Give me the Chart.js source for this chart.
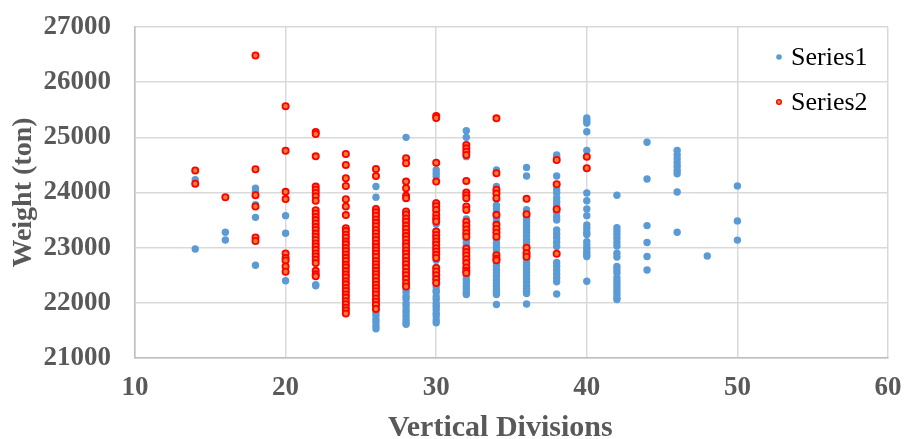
<!DOCTYPE html>
<html>
<head>
<meta charset="utf-8">
<script src="https://cdn.jsdelivr.net/npm/chart.js@4"></script>
<style>
    body { margin: 0; background: #fff; }
    #wrap { position: relative; width: 904px; height: 439px; }
</style>
</head>
<body>
<div id="wrap"><canvas id="chart"></canvas></div>
<script>
// x values (vertical divisions) for each column of points
const divisions = [14, 16, 18, 20, 22, 24, 26, 28, 30, 32, 34, 36, 38, 40, 42, 44, 46, 48, 50];

// Series1 weights, one list per division
const series1Weights = [
    [24230, 22975],
    [23280, 23140],
    [24080, 24020, 23780, 23550, 22680],
    [23580, 23260, 22400],
    [22330, 22310],
    [],
    [24110, 23915, 23710, 23590, 23460, 23310, 23180, 23070, 22930, 22810, 22660, 22550, 22400, 22290, 22140, 22030, 21950, 21880, 21820, 21770, 21700, 21650, 21580, 21530],
    [25000, 23610, 23480, 23330, 23220, 23070, 22960, 22810, 22700, 22550, 22440, 22310, 22240, 22190, 22120, 22070, 21990, 21940, 21870, 21820, 21760, 21700, 21650, 21610],
    [24410, 24350, 24290, 23810, 23740, 23650, 23520, 23430, 23300, 23210, 23080, 22990, 22860, 22770, 22640, 22550, 22420, 22360, 22290, 22230, 22190, 22110, 22060, 21990, 21940, 21880, 21810, 21760, 21690, 21640],
    [25120, 25000, 24650, 23520, 23390, 23250, 23150, 23090, 23020, 22960, 22890, 22800, 22730, 22650, 22560, 22490, 22420, 22360, 22300, 22250, 22190, 22150],
    [24410, 24110, 24020, 23880, 23770, 23700, 23630, 23530, 23460, 23350, 23280, 23150, 23080, 23020, 22960, 22900, 22840, 22780, 22720, 22670, 22600, 22540, 22480, 22410, 22360, 22300, 22240, 22190, 22150, 21970],
    [24455, 24300, 23690, 23630, 23570, 23510, 23450, 23390, 23330, 23280, 23210, 23150, 23090, 23030, 22970, 22910, 22860, 22790, 22730, 22680, 22610, 22550, 22500, 22430, 22380, 22310, 22260, 22210, 22170, 21980],
    [24680, 24640, 24300, 24050, 23990, 23900, 23830, 23760, 23700, 23640, 23560, 23500, 23320, 23250, 23180, 23100, 23020, 22730, 22660, 22590, 22520, 22450, 22380, 22160],
    [25350, 25300, 25260, 25100, 24760, 23990, 23850, 23700, 23580, 23410, 23350, 23280, 23240, 23110, 23050, 22990, 22930, 22880, 22840, 22390],
    [23950, 23360, 23300, 23240, 23170, 23100, 23030, 22900, 22830, 22660, 22600, 22540, 22455, 22390, 22330, 22270, 22210, 22150, 22090, 22060],
    [24910, 24245, 23400, 23095, 22840, 22595],
    [24760, 24680, 24610, 24540, 24470, 24400, 24340, 24010, 23280],
    [22850],
    [24120, 23485, 23137]
];

// Series2 weights, one list per division
const series2Weights = [
    [24400, 24160],
    [23915],
    [26483, 24421, 23951, 23745, 23185, 23120],
    [25565, 24758, 24012, 23880, 22895, 22812, 22769, 22660, 22564],
    [25096, 25060, 24655, 24107, 24050, 23990, 23930, 23850, 23680, 23620, 23555, 23500, 23440, 23375, 23320, 23255, 23200, 23140, 23075, 23020, 22960, 22895, 22840, 22780, 22720, 22580, 22520, 22480],
    [24698, 24500, 24258, 24119, 23879, 23745, 23590, 23354, 23300, 23235, 23180, 23112, 23060, 22995, 22940, 22876, 22815, 22760, 22690, 22640, 22575, 22515, 22460, 22390, 22335, 22270, 22215, 22150, 22095, 22030, 21975, 21910, 21860, 21805],
    [24427, 24300, 23697, 23640, 23580, 23510, 23450, 23390, 23320, 23260, 23200, 23140, 23070, 23010, 22950, 22890, 22830, 22760, 22700, 22640, 22580, 22520, 22460, 22390, 22330, 22270, 22210, 22150, 22080, 22020, 21960, 21890],
    [24620, 24530, 24198, 24078, 23939, 23898, 23655, 23600, 23530, 23470, 23400, 23340, 23270, 23210, 23150, 23080, 23020, 22950, 22890, 22830, 22760, 22700, 22630, 22560, 22500, 22430, 22360, 22297],
    [25385, 25350, 24541, 24198, 23806, 23750, 23685, 23595, 23530, 23474, 23293, 23230, 23170, 23112, 23053, 22990, 22930, 22870, 22812, 22631, 22570, 22500, 22430, 22359],
    [24860, 24800, 24740, 24680, 24210, 24000, 23950, 23898, 23745, 23685, 23470, 23400, 23330, 23260, 23200, 22985, 22920, 22860, 22790, 22720, 22640, 22580, 22540],
    [25344, 24350, 24050, 23980, 23898, 23595, 23414, 23340, 23270, 23200, 22864, 22800, 22770],
    [23885, 23607, 22998, 22900, 22836],
    [24590, 24150, 23697, 22890],
    [24650, 24440],
    [], [], [], [], []
];

const xTicks = [10, 20, 30, 40, 50, 60];
const yTicks = [21000, 22000, 23000, 24000, 25000, 26000, 27000];
const seriesNames = ['Series1', 'Series2'];

const labelColor = '#595959';
const gridColor = '#D9D9D9';
const serif = '"Liberation Serif", "Times New Roman", serif';

function toPoints(weights) {
    const pts = [];
    weights.forEach((col, i) => {
        col.forEach(w => pts.push({ x: divisions[i], y: w }));
    });
    return pts;
}

// legend sits inside the plot, top right, like the Excel original
const insideLegend = {
    id: 'insideLegend',
    afterDraw(chart) {
        const ctx = chart.ctx;
        const area = chart.chartArea;
        const mx = area.right - 109;
        const tx = area.right - 97;
        const rows = [area.top + 30, area.top + 75];
        ctx.save();
        ctx.font = '26px ' + serif;
        ctx.textBaseline = 'middle';
        rows.forEach((y, i) => {
            ctx.beginPath();
            if (i === 0) {
                ctx.arc(mx, y, 2.8, 0, Math.PI * 2);
                ctx.fillStyle = '#5B9BD5';
                ctx.fill();
            } else {
                ctx.arc(mx, y, 2.4, 0, Math.PI * 2);
                ctx.fillStyle = '#ED7D31';
                ctx.fill();
                ctx.lineWidth = 1.3;
                ctx.strokeStyle = '#FF0000';
                ctx.stroke();
            }
            ctx.fillStyle = '#000';
            ctx.fillText(seriesNames[i], tx, y + 1);
        });
        ctx.restore();
    }
};

// keep the plot box where the original has it (135..888 x 27..358)
function fixY(scale) {
    scale.width = 135;
    scale.paddingTop = 0;
    scale.paddingBottom = 0;
}

function fixX(scale) {
    scale.height = 81;
    scale.paddingLeft = 0;
    scale.paddingRight = 0;
}

document.addEventListener('DOMContentLoaded', function() {
    const ctx = document.getElementById('chart').getContext('2d');

    new Chart(ctx, {
        type: 'scatter',
        data: {
            datasets: [
                {
                    label: seriesNames[0],
                    data: toPoints(series1Weights),
                    backgroundColor: '#5B9BD5',
                    borderWidth: 0,
                    pointRadius: 3.7,
                    order: 1
                },
                {
                    label: seriesNames[1],
                    data: toPoints(series2Weights),
                    backgroundColor: '#ED7D31',
                    borderColor: '#FF0000',
                    borderWidth: 1.8,
                    pointRadius: 3.1,
                    order: 0
                }
            ]
        },
        options: {
            responsive: true,
            maintainAspectRatio: false,
            animation: false,
            layout: { padding: { top: 27, right: 16, left: 0, bottom: 0 } },
            plugins: {
                legend: { display: false },
                tooltip: { enabled: false }
            },
            scales: {
                x: {
                    type: 'linear',
                    min: xTicks[0],
                    max: xTicks[xTicks.length - 1],
                    afterBuildTicks: scale => { scale.ticks = xTicks.map(v => ({ value: v })); },
                    afterFit: fixX,
                    grid: { color: gridColor, lineWidth: 1.5, drawTicks: false },
                    border: { color: '#BFBFBF', width: 1.5 },
                    ticks: {
                        color: labelColor,
                        padding: 14,
                        font: { family: serif, size: 27, weight: 'bold' }
                    },
                    title: {
                        display: true,
                        text: 'Vertical Divisions   ',
                        color: labelColor,
                        padding: { top: 0, bottom: -4 },
                        font: { family: serif, size: 30, weight: 'bold', lineHeight: 1 }
                    }
                },
                y: {
                    min: yTicks[0],
                    max: yTicks[yTicks.length - 1],
                    afterBuildTicks: scale => { scale.ticks = yTicks.map(v => ({ value: v })); },
                    afterFit: fixY,
                    grid: { color: gridColor, lineWidth: 1.5, drawTicks: false },
                    border: { color: '#BFBFBF', width: 1.5 },
                    ticks: {
                        color: labelColor,
                        padding: 24,
                        callback: v => String(v),
                        font: { family: serif, size: 27, weight: 'bold' }
                    },
                    title: {
                        display: true,
                        text: 'Weight (ton)',
                        color: labelColor,
                        padding: { top: 10, bottom: 0 },
                        font: { family: serif, size: 28, weight: 'bold', lineHeight: 1 }
                    }
                }
            }
        },
        plugins: [insideLegend]
    });
});
</script>
</body>
</html>
